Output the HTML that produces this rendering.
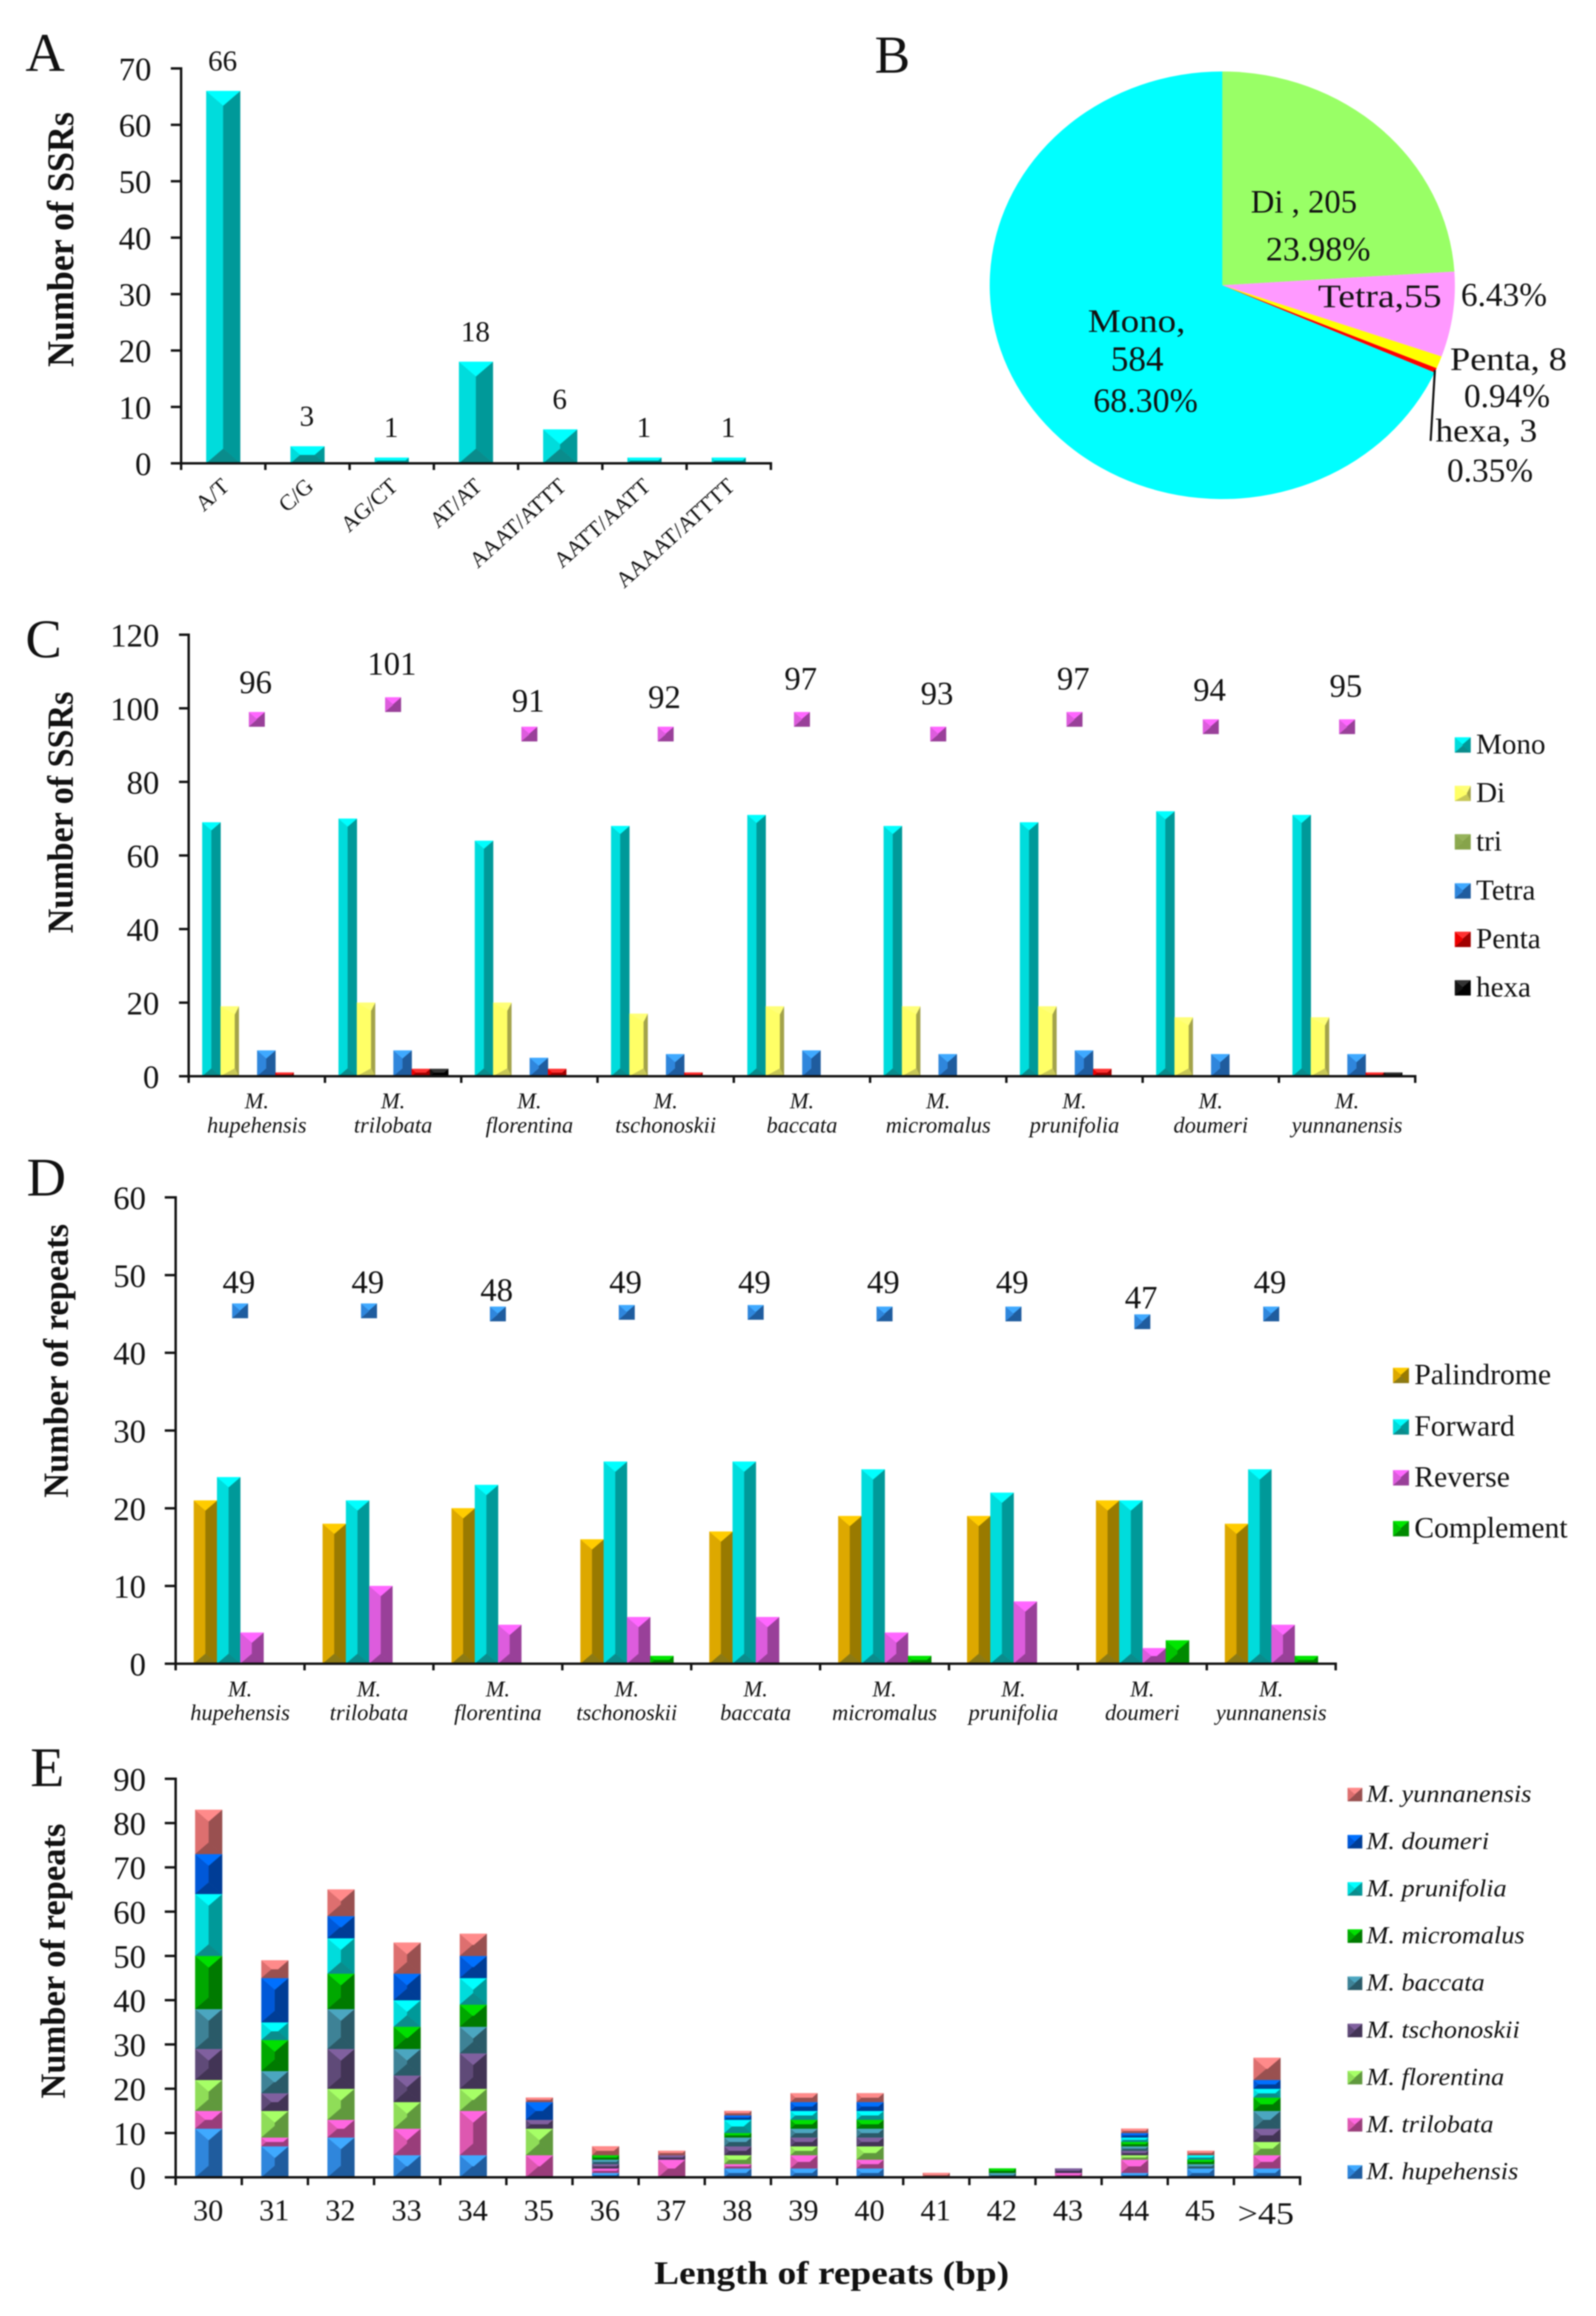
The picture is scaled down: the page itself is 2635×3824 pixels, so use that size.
<!DOCTYPE html>
<html lang="en">
<head>
<meta charset="utf-8">
<title>SSR and repeat analysis of Malus chloroplast genomes</title>
<style>
  html, body { margin: 0; padding: 0; background: #fff; }
  svg { display: block; filter: blur(1.1px); }
  text { font-family: "Liberation Serif", "DejaVu Serif", serif; fill: #111; }
</style>
</head>
<body>
<svg id="figure" xmlns="http://www.w3.org/2000/svg" width="2635" height="3824" viewBox="0 0 2635 3824">
  <rect x="0" y="0" width="2635" height="3824" fill="#fff"/>

  <text x="42" y="117" font-size="90">A</text>
  <text x="1444" y="120" font-size="88">B</text>
  <text x="42" y="1085" font-size="90">C</text>
  <text x="44" y="1974" font-size="90">D</text>
  <text x="50" y="2949" font-size="92">E</text>

  <text transform="translate(121 606) rotate(-90)" font-size="62" font-weight="bold" textLength="421" lengthAdjust="spacingAndGlyphs">Number of SSRs</text>
  <text transform="translate(120 1541) rotate(-90)" font-size="60" font-weight="bold" textLength="399" lengthAdjust="spacingAndGlyphs">Number of SSRs</text>
  <text transform="translate(112 2473) rotate(-90)" font-size="58" font-weight="bold" textLength="452" lengthAdjust="spacingAndGlyphs">Number of repeats</text>
  <text transform="translate(107 3465) rotate(-90)" font-size="58" font-weight="bold" textLength="454" lengthAdjust="spacingAndGlyphs">Number of repeats</text>
  <text x="1080" y="3771" font-size="54" font-weight="bold" textLength="586" lengthAdjust="spacingAndGlyphs">Length of repeats (bp)</text>

  <g id="pie"></g>
  <g font-size="54">
    <text x="2065" y="351">Di , 205</text>
    <text x="2090" y="430" font-size="56">23.98%</text>
    <text x="2176" y="507" textLength="204" lengthAdjust="spacingAndGlyphs">Tetra,55</text>
    <text x="2412" y="505" font-size="55">6.43%</text>
    <text x="2394" y="611" textLength="193" lengthAdjust="spacingAndGlyphs">Penta, 8</text>
    <text x="2417" y="672" font-size="55">0.94%</text>
    <text x="2370" y="729" textLength="168" lengthAdjust="spacingAndGlyphs">hexa, 3</text>
    <text x="2389" y="795" font-size="55">0.35%</text>
    <text x="1796" y="548" textLength="161" lengthAdjust="spacingAndGlyphs">Mono,</text>
    <text x="1834" y="612" font-size="58">584</text>
    <text x="1805" y="680" font-size="56">68.30%</text>
  </g>
  <line x1="2369" y1="611" x2="2362" y2="728" stroke="#111" stroke-width="3.5"/>

  <g id="panelA"></g>
  <g id="panelC"></g>
  <g id="panelD"></g>
  <g id="panelE"></g>
</svg>

<script>
// ---------- Panel A data ----------
const motifCategories = ['A/T', 'C/G', 'AG/CT', 'AT/AT', 'AAAT/ATTT', 'AATT/AATT', 'AAAAT/ATTTT'];
const motifCounts = [66, 3, 1, 18, 6, 1, 1];
const motifTicks = [0, 10, 20, 30, 40, 50, 60, 70];

// ---------- Panel B data ----------
const pieNames = ['Di', 'Tetra', 'Penta', 'hexa', 'Mono'];
const pieCounts = [205, 55, 8, 3, 584];

// ---------- Panel C data ----------
const speciesShort = ['hupehensis', 'trilobata', 'florentina', 'tschonoskii', 'baccata', 'micromalus', 'prunifolia', 'doumeri', 'yunnanensis'];
const ssrTicks = [0, 20, 40, 60, 80, 100, 120];
const ssrMono = [69, 70, 64, 68, 71, 68, 69, 72, 71];
const ssrDi = [19, 20, 20, 17, 19, 19, 19, 16, 16];
const ssrTri = [0, 0, 0, 0, 0, 0, 0, 0, 0];
const ssrTetra = [7, 7, 5, 6, 7, 6, 7, 6, 6];
const ssrPenta = [1, 2, 2, 1, 0, 0, 2, 0, 1];
const ssrHexa = [0, 2, 0, 0, 0, 0, 0, 0, 1];
const ssrTotals = [96, 101, 91, 92, 97, 93, 97, 94, 95];
const ssrMarkerLevels = [97, 101, 93, 93, 97, 93, 97, 95, 95];

// ---------- Panel D data ----------
const repeatTicks = [0, 10, 20, 30, 40, 50, 60];
const repeatPalindrome = [21, 18, 20, 16, 17, 19, 19, 21, 18];
const repeatForward = [24, 21, 23, 26, 26, 25, 22, 21, 25];
const repeatReverse = [4, 10, 5, 6, 6, 4, 8, 2, 5];
const repeatComplement = [0, 0, 0, 1, 0, 1, 0, 3, 1];
const repeatTotals = [49, 49, 48, 49, 49, 49, 49, 47, 49];
const repeatMarkerLevels = [45.4, 45.4, 45, 45.2, 45.2, 45, 45, 44, 45];

// ---------- Panel E data ----------
const lengthCategories = ['30', '31', '32', '33', '34', '35', '36', '37', '38', '39', '40', '41', '42', '43', '44', '45', '>45'];
const lengthTicks = [0, 10, 20, 30, 40, 50, 60, 70, 80, 90];
const lenHupehensis  = [11, 7, 9, 5, 5, 0, 1, 0, 2, 2, 2, 0, 0, 0, 1, 2, 2];
const lenTrilobata   = [4, 2, 4, 6, 10, 5, 1, 4, 1, 3, 2, 0, 0, 1, 3, 0, 3];
const lenFlorentina  = [7, 6, 7, 6, 5, 6, 0, 0, 2, 2, 3, 0, 0, 0, 1, 0, 3];
const lenTschonoskii = [7, 4, 9, 6, 8, 2, 1, 1, 2, 2, 2, 0, 0, 1, 1, 0, 3];
const lenBaccata     = [9, 5, 9, 6, 6, 0, 1, 0, 2, 2, 2, 0, 1, 0, 1, 1, 4];
const lenMicromalus  = [12, 7, 8, 5, 5, 0, 1, 0, 1, 2, 2, 0, 1, 0, 1, 1, 3];
const lenPrunifolia  = [14, 4, 8, 6, 6, 0, 0, 0, 3, 2, 2, 0, 0, 0, 1, 1, 2];
const lenDoumeri     = [9, 10, 5, 6, 5, 4, 0, 0, 1, 2, 2, 0, 0, 0, 1, 0, 2];
const lenYunnanensis = [10, 4, 6, 7, 5, 1, 2, 1, 1, 2, 2, 1, 0, 0, 1, 1, 5];

// ---------- Shared palettes (top, left, right, bottom, optional ridge position) ----------
const palCyan = ['#00FFFF', '#00DCDC', '#009999', '#0A8C8C'];
const palYellow = ['#FFFF78', '#FFFF66', '#A3A34A', '#C8C858', 0.78];
const palOlive = ['#96B35A', '#8CA94F', '#86A34A', '#86A34A'];
const palBlue = ['#3FA9FF', '#2F86DC', '#1F5C9E', '#1F5C9E'];
const palRed = ['#FF3030', '#EE0000', '#A00000', '#A00000'];
const palBlack = ['#333333', '#141414', '#000000', '#000000'];
const palGold = ['#FFCC00', '#DDA800', '#997A00', '#8C7A14'];
const palMagenta = ['#FF66FF', '#DD5CDD', '#994099', '#994099'];
const palGreen = ['#00E600', '#00C400', '#008A00', '#008A00'];
const palPink = ['#FF66E0', '#DD58B0', '#993D7A', '#993D7A'];
const palLime = ['#A6FF66', '#8FDD58', '#60993D', '#60993D'];
const palPurple = ['#80609F', '#5F4A78', '#423455', '#423455'];
const palTeal = ['#4BA6C0', '#3E8296', '#2A5A68', '#2A5A68'];
const palDarkGreen = ['#00E000', '#00A800', '#007A00', '#007A00'];
const palRoyal = ['#0070FF', '#0058D8', '#003D96', '#003D96'];
const palSalmon = ['#FF8A8A', '#DD6F6F', '#995050', '#995050'];

const SVG_NS = 'http://www.w3.org/2000/svg';
const AXIS_COLOR = '#111';

function make(tag, attrs, parent) {
  const el = document.createElementNS(SVG_NS, tag);
  for (const k in attrs) el.setAttribute(k, attrs[k]);
  parent.appendChild(el);
  return el;
}

function addText(parent, str, x, y, size, anchor, name, extra) {
  const el = make('text', Object.assign({ x: x, y: y, 'font-size': size, 'text-anchor': anchor }, extra || {}), parent);
  el.textContent = str;
  
  
  return el;
}

function addLine(parent, x1, y1, x2, y2, width, name) {
  const el = make('line', { x1: x1, y1: y1, x2: x2, y2: y2, stroke: AXIS_COLOR, 'stroke-width': width }, parent);
  
  
  return el;
}

// Excel style bevelled rectangle: four faces meeting on a central ridge
function bevelBox(parent, x, y, w, h, pal, name) {
  const g = make('g', {}, parent);
  
  
  const ridge = pal[4] || 0.5;
  const dy = Math.min(w * 0.43, h / 2);
  const dx = Math.min(w / 2, dy / 0.86);
  const xL = x + dx * 2 * ridge;
  const xR = x + w - dx * 2 * (1 - ridge);
  const faces = [
    [pal[1], [[x, y], [xL, y + dy], [xL, y + h - dy], [x, y + h]]],
    [pal[2], [[x + w, y], [xR, y + dy], [xR, y + h - dy], [x + w, y + h]]],
    [pal[3], [[x, y + h], [xL, y + h - dy], [xR, y + h - dy], [x + w, y + h]]],
    [pal[0], [[x, y], [xL, y + dy], [xR, y + dy], [x + w, y]]]
  ];
  if (xR > xL) {
    make('rect', { x: xL, y: y + dy, width: xR - xL, height: Math.max(h - 2 * dy, 0), fill: pal[1] }, g);
  }
  faces.forEach(function (f) {
    make('polygon', { points: f[1].map(function (p) { return p.join(','); }).join(' '), fill: f[0], stroke: f[0], 'stroke-width': 0.4 }, g);
  });
  return g;
}

function drawAxes(parent, prefix, geo, ticks, tickFont, labelRight) {
  const y = geo.y;
  addLine(parent, geo.x0, y(ticks[ticks.length - 1]) - 2, geo.x0, y(0) + geo.tickDown, 4, prefix + '-y-axis-line');
  addLine(parent, geo.x0 - geo.tickLeft, y(0), geo.x0 + geo.catW * geo.n + 2, y(0), 4, prefix + '-x-axis-line');
  ticks.forEach(function (t) {
    addLine(parent, geo.x0 - geo.tickLeft, y(t), geo.x0, y(t), 4, prefix + '-y-tick-' + t);
    addText(parent, String(t), labelRight, y(t) + tickFont * 0.36, tickFont, 'end', prefix + '-y-tick-label-' + t);
  });
  for (let i = 0; i <= geo.n; i++) {
    const tx = geo.x0 + geo.catW * i;
    addLine(parent, tx, y(0), tx, y(0) + geo.tickDown, 4, prefix + '-x-tick-' + i);
  }
}

// ---------- Panel A ----------
(function () {
  const root = document.getElementById('panelA');
  const y = function (v) { return 765 - v * (652 / 70); };
  const geo = { x0: 299, catW: 139.1, n: motifCategories.length, y: y, tickLeft: 17, tickDown: 11 };
  const barW = 56;
  motifCounts.forEach(function (v, i) {
    const cx = geo.x0 + geo.catW * (i + 0.5);
    const slug = motifCategories[i].toLowerCase().replace('/', '-');
    bevelBox(root, cx - barW / 2, y(v), barW, y(0) - y(v), palCyan, 'bar-' + slug);
    addText(root, String(v), cx - 1, y(v) - 50 + 16, 48, 'middle', 'bar-value-' + slug);
    const ax = cx + 12;
    const ay = 806;
    addText(root, motifCategories[i], ax, ay, 37, 'end', 'x-tick-label-' + slug, { transform: 'rotate(-42 ' + ax + ' ' + ay + ')' });
  });
  drawAxes(root, 'panel-a', geo, motifTicks, 54, 250);
})();

// ---------- Panel B ----------
(function () {
  const root = document.getElementById('pie');
  const colors = ['#99FF66', '#FF99FF', '#FFFF00', '#FF0000', '#00FFFF'];
  const cx = 2018, cy = 471, rx = 384, ry = 353;
  const total = pieCounts.reduce(function (a, b) { return a + b; }, 0);
  let acc = 0;
  pieCounts.forEach(function (v, i) {
    const a0 = acc / total * 2 * Math.PI;
    acc += v;
    const a1 = acc / total * 2 * Math.PI;
    const large = a1 - a0 > Math.PI ? 1 : 0;
    const d = 'M' + cx + ' ' + cy +
      ' L' + (cx + rx * Math.sin(a0)) + ' ' + (cy - ry * Math.cos(a0)) +
      ' A' + rx + ' ' + ry + ' 0 ' + large + ' 1 ' + (cx + rx * Math.sin(a1)) + ' ' + (cy - ry * Math.cos(a1)) + ' Z';
    const el = make('path', { d: d, fill: colors[i] }, root);
    
    
  });
})();

function drawGrouped(root, prefix, geo, ticks, labelRight, series, barW, barStart, totals, markerLevels, markerPal, labelOffset, labelFont, catY1, catY2) {
  const y = geo.y;
  speciesShort.forEach(function (sp, i) {
    const left = geo.x0 + geo.catW * i;
    const cx = left + geo.catW / 2;
    series.forEach(function (s, k) {
      const v = s.values[i];
      if (v > 0) {
        bevelBox(root, left + barStart + barW * k, y(v), barW, y(0) - y(v), s.pal, 'bar-' + sp + '-' + s.name.toLowerCase());
      }
    });
    bevelBox(root, cx - 13, y(markerLevels[i]) - 12, 26, 24, markerPal, 'total-marker-' + sp);
    addText(root, String(totals[i]), cx - 2, y(totals[i]) + labelOffset + labelFont * 0.33, labelFont, 'middle', 'total-label-' + sp);
    addText(root, 'M.', cx, catY1, 37, 'middle', 'x-tick-label-genus-' + sp, { 'font-style': 'italic' });
    addText(root, sp, cx, catY2, 37, 'middle', 'x-tick-label-' + sp, { 'font-style': 'italic' });
  });
  drawAxes(root, prefix, geo, ticks, 54, labelRight);
}

function drawLegend(root, prefix, entries, markerX, textX, font) {
  entries.forEach(function (e) {
    bevelBox(root, markerX, e.y - 12.5, 26, 25, e.pal, prefix + '-legend-swatch-' + e.name.toLowerCase());
    addText(root, e.name, textX, e.y + font * 0.3, font, 'start', prefix + '-legend-label-' + e.name.toLowerCase());
  });
}

// ---------- Panel C ----------
(function () {
  const root = document.getElementById('panelC');
  const y = function (v) { return 1777 - v * (729 / 120); };
  const geo = { x0: 311.5, catW: 225, n: speciesShort.length, y: y, tickLeft: 16, tickDown: 11 };
  const series = [
    { name: 'Mono', values: ssrMono, pal: palCyan },
    { name: 'Di', values: ssrDi, pal: palYellow },
    { name: 'tri', values: ssrTri, pal: palOlive },
    { name: 'Tetra', values: ssrTetra, pal: palBlue },
    { name: 'Penta', values: ssrPenta, pal: palRed },
    { name: 'hexa', values: ssrHexa, pal: palBlack }
  ];
  drawGrouped(root, 'panel-c', geo, ssrTicks, 263, series, 30.2, 22.5, ssrTotals, ssrMarkerLevels, palMagenta, -67, 54, 1830, 1870);
  const rows = [1230, 1310, 1390, 1471, 1551, 1631];
  drawLegend(root, 'panel-c', series.map(function (s, i) { return { name: s.name, pal: s.pal, y: rows[i] }; }), 2402, 2437, 48);
})();

// ---------- Panel D ----------
(function () {
  const root = document.getElementById('panelD');
  const y = function (v) { return 2747 - v * (770 / 60); };
  const geo = { x0: 290, catW: 212.8, n: speciesShort.length, y: y, tickLeft: 18, tickDown: 11 };
  const series = [
    { name: 'Palindrome', values: repeatPalindrome, pal: palGold },
    { name: 'Forward', values: repeatForward, pal: palCyan },
    { name: 'Reverse', values: repeatReverse, pal: palMagenta },
    { name: 'Complement', values: repeatComplement, pal: palGreen }
  ];
  drawGrouped(root, 'panel-d', geo, repeatTicks, 241, series, 38.4, 30, repeatTotals, repeatMarkerLevels, palBlue, -1, 54, 2801, 2840);
  const rows = [2271, 2356, 2440, 2524];
  drawLegend(root, 'panel-d', series.map(function (s, i) { return { name: s.name, pal: s.pal, y: rows[i] }; }), 2300, 2335, 49);
})();

// ---------- Panel E ----------
(function () {
  const root = document.getElementById('panelE');
  const y = function (v) { return 3595 - v * (658 / 90); };
  const geo = { x0: 290, catW: 109.2, n: lengthCategories.length, y: y, tickLeft: 18, tickDown: 13 };
  const stack = [
    { name: 'hupehensis', values: lenHupehensis, pal: palBlue },
    { name: 'trilobata', values: lenTrilobata, pal: palPink },
    { name: 'florentina', values: lenFlorentina, pal: palLime },
    { name: 'tschonoskii', values: lenTschonoskii, pal: palPurple },
    { name: 'baccata', values: lenBaccata, pal: palTeal },
    { name: 'micromalus', values: lenMicromalus, pal: palDarkGreen },
    { name: 'prunifolia', values: lenPrunifolia, pal: palCyan },
    { name: 'doumeri', values: lenDoumeri, pal: palRoyal },
    { name: 'yunnanensis', values: lenYunnanensis, pal: palSalmon }
  ];
  const barW = 44.5;
  lengthCategories.forEach(function (cat, i) {
    const cx = geo.x0 + geo.catW * (i + 0.5);
    let base = 0;
    stack.forEach(function (s) {
      const v = s.values[i];
      if (v > 0) {
        bevelBox(root, cx - barW / 2, y(base + v), barW, y(base) - y(base + v), s.pal, 'bar-' + cat.replace('>', 'over-') + '-' + s.name);
        base += v;
      }
    });
    if (cat.charAt(0) === '>') {
      addText(root, cat, cx - 2, 3672, 52, 'middle', 'x-tick-label-over-45', { textLength: 93, lengthAdjust: 'spacingAndGlyphs' });
    } else {
      addText(root, cat, cx - 1, 3666, 50, 'middle', 'x-tick-label-' + cat);
    }
  });
  drawAxes(root, 'panel-e', geo, lengthTicks, 54, 241);
  const rowTop = 2963, rowStep = 77.9;
  stack.slice().reverse().forEach(function (s, i) {
    const ly = rowTop + rowStep * i;
    bevelBox(root, 2225, ly - 11, 24, 22, s.pal, 'panel-e-legend-swatch-' + s.name);
    const label = addText(root, 'M. ' + s.name, 2256, ly + 12, 40, 'start', 'panel-e-legend-label-' + s.name, { 'font-style': 'italic' });
    label.setAttribute('textLength', label.getComputedTextLength() * 1.085);
    label.setAttribute('lengthAdjust', 'spacingAndGlyphs');
  });
})();
</script>
</body>
</html>
